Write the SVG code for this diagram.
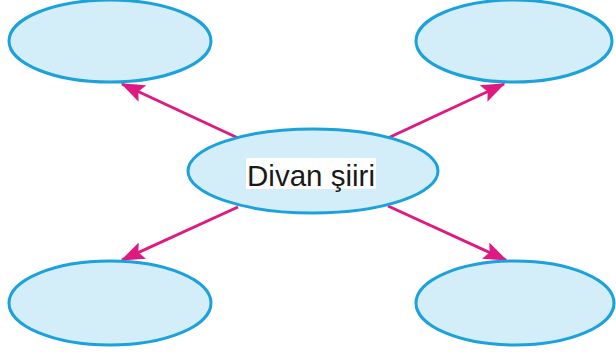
<svg xmlns="http://www.w3.org/2000/svg" width="616" height="356" viewBox="0 0 616 356">
<style>
.node{fill:#d3edf9;stroke:#1ba1dc;stroke-width:3}
.conn{stroke:#de1a82;stroke-width:3;fill:none;marker-end:url(#ah)}
.lbl{font-family:"Liberation Sans",Arial,sans-serif;font-size:30px;fill:#1a1a1a}
</style>
<defs>
<marker id="ah" markerWidth="8" markerHeight="6" refX="7.5" refY="3" orient="auto" markerUnits="strokeWidth">
<path d="M0,0 L8,3 L0,6 L1.5,3 Z" fill="#de1a82"/>
</marker>
</defs>
<g id="connectors">
<line class="conn" x1="238" y1="138" x2="122" y2="84"/>
<line class="conn" x1="388" y1="138" x2="504" y2="84"/>
<line class="conn" x1="238" y1="207" x2="122" y2="260"/>
<line class="conn" x1="388" y1="206" x2="506" y2="260"/>
</g>
<g id="node-tl"><ellipse class="node" cx="110" cy="41" rx="101" ry="41"/></g>
<g id="node-tr"><ellipse class="node" cx="514" cy="41" rx="98" ry="41"/></g>
<g id="node-bl"><ellipse class="node" cx="110" cy="303" rx="101" ry="42"/></g>
<g id="node-br"><ellipse class="node" cx="515" cy="303" rx="99" ry="42"/></g>
<g id="node-center">
<ellipse class="node" cx="313" cy="171" rx="125" ry="42"/>
<rect x="246" y="158" width="130" height="31" fill="#ffffff"/>
<text class="lbl" x="247" y="186" textLength="128" lengthAdjust="spacingAndGlyphs">Divan şiiri</text>
</g>
</svg>
